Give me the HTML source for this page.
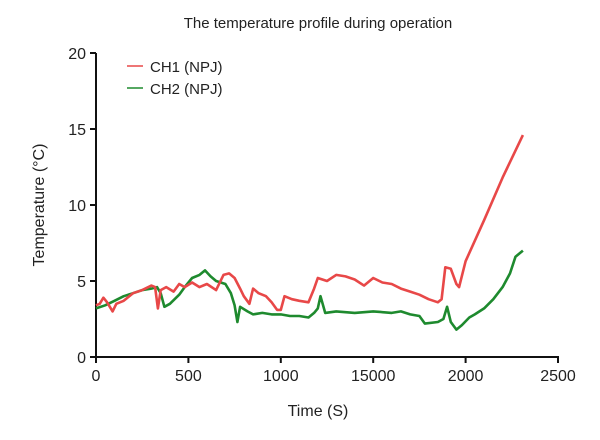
<!DOCTYPE html>
<html><head><meta charset="utf-8"><style>
body{margin:0;background:#fff}
svg{display:block}
text{font-family:"Liberation Sans Narrow","Liberation Sans",sans-serif;fill:#222}
</style></head><body>
<svg id="chart" width="600" height="440">
<text x="318" y="28" text-anchor="middle" font-size="15">The temperature profile during operation</text>
<g id="axes"></g>
<g id="series"></g>
<g>
<line x1="127" y1="66" x2="143" y2="66" stroke="#e84848" stroke-width="1.5"/>
<text x="150" y="72" font-size="15">CH1 (NPJ)</text>
<line x1="127" y1="88" x2="143" y2="88" stroke="#1e8a2e" stroke-width="1.5"/>
<text x="150" y="94" font-size="15">CH2 (NPJ)</text>
</g>
<text x="318" y="416" text-anchor="middle" font-size="16">Time (S)</text>
<text transform="translate(44,205) rotate(-90)" text-anchor="middle" font-size="16">Temperature (°C)</text>
</svg>
<script>
const xTicks=[0,500,1000,1500,2000,2500];
const xTickLabels=["0","500","1000","15000","2000","2500"];
const yTicks=[0,5,10,15,20];
const ch1T=[0,20,40,60,90,110,150,200,250,300,320,335,350,380,420,450,480,520,560,600,650,690,720,750,780,800,830,850,880,920,950,980,1000,1020,1060,1100,1150,1180,1200,1250,1300,1350,1400,1450,1500,1550,1600,1650,1700,1750,1800,1850,1870,1890,1920,1950,1965,2000,2100,2200,2310];
const ch1V=[3.4,3.5,3.9,3.6,3.0,3.5,3.7,4.2,4.4,4.7,4.6,3.2,4.4,4.6,4.3,4.8,4.6,4.9,4.6,4.8,4.4,5.4,5.5,5.2,4.5,4.0,3.5,4.5,4.2,4.0,3.6,3.1,3.1,4.0,3.8,3.7,3.6,4.5,5.2,5.0,5.4,5.3,5.1,4.7,5.2,4.9,4.8,4.5,4.3,4.1,3.8,3.6,3.8,5.9,5.8,4.8,4.6,6.3,9.0,11.8,14.6];
const ch2T=[0,50,100,150,200,250,300,330,350,370,400,450,480,520,560,590,620,650,700,730,750,765,780,820,850,900,950,1000,1050,1100,1150,1180,1200,1215,1240,1300,1400,1500,1600,1650,1700,1750,1780,1850,1880,1900,1920,1950,1980,2020,2050,2100,2150,2200,2240,2270,2310];
const ch2V=[3.2,3.4,3.7,4.0,4.2,4.4,4.5,4.6,4.2,3.3,3.5,4.1,4.6,5.2,5.4,5.7,5.3,5.0,4.8,4.2,3.4,2.3,3.3,3.0,2.8,2.9,2.8,2.8,2.7,2.7,2.6,2.9,3.2,4.0,2.9,3.0,2.9,3.0,2.9,3.0,2.8,2.7,2.2,2.3,2.5,3.3,2.3,1.8,2.1,2.6,2.8,3.2,3.8,4.6,5.5,6.6,7.0];
const X0=96,X1=558,Y0=357,Y1=53;
const xs=v=>X0+(v/2500)*(X1-X0);
const ys=v=>Y0-(v/20)*(Y0-Y1);
const NS="http://www.w3.org/2000/svg";
const axes=document.getElementById('axes');
function mk(tag,attrs,parent){const e=document.createElementNS(NS,tag);for(const k in attrs)e.setAttribute(k,attrs[k]);parent.appendChild(e);return e;}
let l=mk('line',{x1:X0,y1:Y1,x2:X0,y2:Y0+1,stroke:'#111','stroke-width':2},axes);


l=mk('line',{x1:X0-1,y1:Y0,x2:X1+1,y2:Y0,stroke:'#111','stroke-width':2},axes);


xTicks.forEach((v,i)=>{
 const t=mk('line',{x1:xs(v),y1:Y0,x2:xs(v),y2:Y0+6,stroke:'#111','stroke-width':2},axes);
 
 
 const tx=mk('text',{x:xs(v),y:Y0+24,'text-anchor':'middle','font-size':16},axes);
 tx.textContent=xTickLabels[i];
 
 
});
yTicks.forEach(v=>{
 const t=mk('line',{x1:X0-6,y1:ys(v),x2:X0,y2:ys(v),stroke:'#111','stroke-width':2},axes);
 
 
 const tx=mk('text',{x:X0-10,y:ys(v)+6,'text-anchor':'end','font-size':16},axes);
 tx.textContent=v;
 
 
});
const ser=document.getElementById('series');
function draw(T,V,color,name){
 const pts=T.map((t,i)=>xs(t).toFixed(1)+','+ys(V[i]).toFixed(1)).join(' ');
 const p=mk('polyline',{points:pts,fill:'none',stroke:color,'stroke-width':2.6,'stroke-linejoin':'round'},ser);
 
 
}
draw(ch2T,ch2V,'#1e8a2e','series-ch2');
draw(ch1T,ch1V,'#e84848','series-ch1');
</script>
</body></html>
